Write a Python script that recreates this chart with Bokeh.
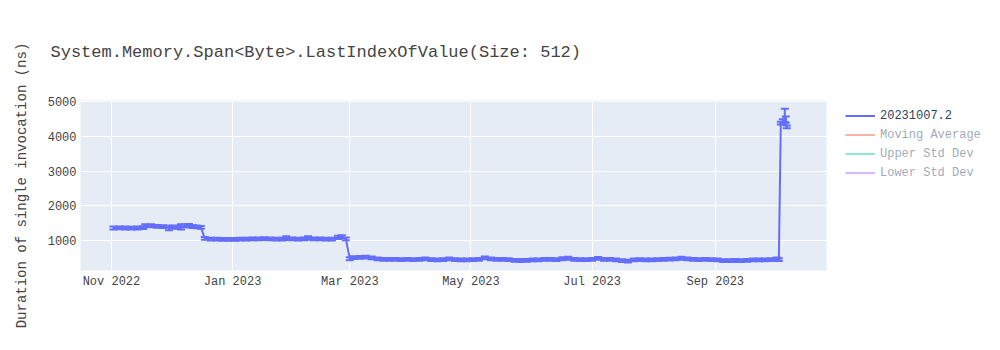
from datetime import datetime
import pandas as pd
from bokeh.plotting import figure
from bokeh.models import (ColumnDataSource, Whisker, TeeHead, Legend, LegendItem,
                          DatetimeTickFormatter, MonthsTicker, SingleIntervalTicker, Range1d)
from bokeh.embed import file_html
from bokeh.resources import INLINE

title_text = "System.Memory.Span<Byte>.LastIndexOfValue(Size: 512)"
y_label = "Duration of single invocation (ns)"
series_name = "20231007.2"
legend_only = ["Moving Average", "Upper Std Dev", "Lower Std Dev"]
legend_only_colors = ["#EF553B", "#00CC96", "#AB63FA"]

dates = [
    "2022-11-02", "2022-11-05", "2022-11-08", "2022-11-11", "2022-11-14", "2022-11-17",
    "2022-11-18", "2022-11-21", "2022-11-24", "2022-11-27", "2022-11-30", "2022-12-02",
    "2022-12-04", "2022-12-06", "2022-12-08", "2022-12-10", "2022-12-12", "2022-12-14",
    "2022-12-16", "2022-12-18", "2022-12-21", "2022-12-24", "2022-12-27", "2022-12-30",
    "2023-01-02", "2023-01-05", "2023-01-08", "2023-01-11", "2023-01-14", "2023-01-17",
    "2023-01-20", "2023-01-23", "2023-01-26", "2023-01-28", "2023-01-31", "2023-02-03",
    "2023-02-06", "2023-02-08", "2023-02-11", "2023-02-14", "2023-02-17", "2023-02-20",
    "2023-02-23", "2023-02-25", "2023-02-27", "2023-03-01", "2023-03-03", "2023-03-06",
    "2023-03-09", "2023-03-12", "2023-03-15", "2023-03-18", "2023-03-21", "2023-03-24",
    "2023-03-27", "2023-03-30", "2023-04-02", "2023-04-05", "2023-04-08", "2023-04-11",
    "2023-04-14", "2023-04-17", "2023-04-20", "2023-04-23", "2023-04-26", "2023-04-29",
    "2023-05-02", "2023-05-05", "2023-05-08", "2023-05-11", "2023-05-14", "2023-05-17",
    "2023-05-20", "2023-05-23", "2023-05-26", "2023-05-29", "2023-06-01", "2023-06-04",
    "2023-06-07", "2023-06-10", "2023-06-13", "2023-06-16", "2023-06-19", "2023-06-22",
    "2023-06-25", "2023-06-28", "2023-07-01", "2023-07-04", "2023-07-07", "2023-07-10",
    "2023-07-13", "2023-07-16", "2023-07-19", "2023-07-22", "2023-07-25", "2023-07-28",
    "2023-07-31", "2023-08-03", "2023-08-06", "2023-08-09", "2023-08-12", "2023-08-15",
    "2023-08-18", "2023-08-21", "2023-08-24", "2023-08-27", "2023-08-30", "2023-09-02",
    "2023-09-05", "2023-09-08", "2023-09-11", "2023-09-14", "2023-09-17", "2023-09-20",
    "2023-09-23", "2023-09-26", "2023-09-29", "2023-10-02", "2023-10-03", "2023-10-04",
    "2023-10-05", "2023-10-06", "2023-10-06T12:00", "2023-10-07",
]
values = [
    1360, 1365, 1360, 1355, 1360, 1370,
    1430, 1425, 1410, 1400, 1360, 1395,
    1380, 1390, 1420, 1430, 1400, 1390,
    1380, 1060, 1040, 1040, 1035, 1035,
    1035, 1040, 1040, 1045, 1050, 1055,
    1045, 1040, 1040, 1070, 1045, 1040,
    1050, 1075, 1050, 1045, 1040, 1040,
    1090, 1110, 1050, 475, 510, 515,
    520, 500, 470, 460, 455, 455,
    450, 455, 450, 455, 470, 450,
    440, 450, 470, 450, 445, 445,
    450, 455, 500, 470, 460, 455,
    450, 430, 425, 430, 440, 445,
    455, 460, 450, 475, 490, 460,
    450, 450, 455, 485, 460, 455,
    440, 420, 405, 440, 450, 445,
    440, 450, 455, 465, 470, 490,
    470, 455, 450, 460, 450, 440,
    420, 420, 425, 420, 430, 440,
    445, 440, 450, 470, 450, 4380,
    4420, 4600, 4480, 4270,
]
errors = [
    40, 40, 40, 40, 40, 40,
    40, 40, 40, 40, 65, 40,
    40, 75, 40, 45, 40, 40,
    40, 40, 40, 40, 40, 40,
    40, 40, 40, 40, 40, 40,
    40, 40, 40, 55, 40, 40,
    40, 50, 40, 40, 40, 40,
    45, 40, 40, 40, 40, 40,
    40, 40, 40, 40, 40, 40,
    40, 40, 40, 40, 40, 40,
    40, 40, 40, 40, 40, 40,
    40, 40, 40, 40, 40, 40,
    40, 40, 40, 40, 40, 40,
    40, 40, 40, 40, 40, 40,
    40, 40, 40, 40, 40, 40,
    40, 40, 40, 40, 40, 40,
    40, 40, 40, 40, 40, 40,
    40, 40, 40, 40, 40, 40,
    40, 40, 40, 40, 40, 40,
    40, 40, 40, 40, 40, 40,
    70, 190, 90, 40,
]

x = pd.to_datetime(dates, format="ISO8601")
src = ColumnDataSource(dict(
    x=x, y=values,
    lo=[v - e for v, e in zip(values, errors)],
    hi=[v + e for v, e in zip(values, errors)],
))

FONT = "Liberation Mono"
MAIN = "#636EFA"

p = figure(frame_width=746, frame_height=170, x_axis_type="datetime", output_backend="svg",
           toolbar_location=None, min_border_left=80, min_border_right=174,
           min_border_top=100, min_border_bottom=80,
           x_range=Range1d(datetime(2022, 10, 16, 10), datetime(2023, 10, 27)),
           y_range=Range1d(137, 5030))

p.background_fill_color = "#E5ECF6"
p.border_fill_color = "white"
p.outline_line_color = None

p.title.text = title_text
p.title.text_font = FONT
p.title.text_font_size = "17px"
p.title.text_font_style = "normal"
p.title.text_color = "#444444"
p.title.align = "left"
p.title.offset = -30
p.title.standoff = 78

for ax in (p.xaxis[0], p.yaxis[0]):
    ax.axis_line_color = None
    ax.major_tick_line_color = None
    ax.minor_tick_line_color = None
    ax.major_tick_out = 0
    ax.major_tick_in = 0
    ax.minor_tick_out = 0
    ax.minor_tick_in = 0
    ax.major_label_text_font = FONT
    ax.major_label_text_font_size = "12px"
    ax.major_label_text_color = "#444444"

p.xaxis.ticker = MonthsTicker(months=[0, 2, 4, 6, 8, 10])
p.xaxis.formatter = DatetimeTickFormatter(months="%b %Y", days="%b %Y", years="%Y")
p.xaxis.major_label_standoff = 4
p.yaxis.ticker = SingleIntervalTicker(interval=1000)
p.yaxis.major_label_standoff = 4
p.yaxis.axis_label = y_label
p.yaxis.axis_label_text_font = FONT
p.yaxis.axis_label_text_font_size = "14px"
p.yaxis.axis_label_text_font_style = "normal"
p.yaxis.axis_label_text_color = "#444444"
p.yaxis.axis_label_standoff = 15

p.xgrid.grid_line_color = "white"
p.ygrid.grid_line_color = "white"
p.xgrid.grid_line_width = 1
p.ygrid.grid_line_width = 1

main = p.line("x", "y", source=src, line_color=MAIN, line_width=2)
wh = Whisker(base="x", upper="hi", lower="lo", source=src, dimension="height",
             line_color=MAIN, line_width=2,
             upper_head=TeeHead(size=8, line_color=MAIN, line_width=2),
             lower_head=TeeHead(size=8, line_color=MAIN, line_width=2))
p.add_layout(wh)

items = [LegendItem(label=series_name, renderers=[main])]
for name, col in zip(legend_only, legend_only_colors):
    # traces shown only in the legend (hidden in the plot, as in the original)
    r = p.line("x", "y", source=src, line_color=col, line_width=2)
    r.visible = False
    items.append(LegendItem(label=name, renderers=[r]))

legend = Legend(items=items, location=(19, 90), border_line_color=None,
                background_fill_alpha=0, label_text_font=FONT,
                label_text_font_size="12px", label_text_color="#2a3f5f",
                glyph_width=30, glyph_height=15, label_height=15, spacing=4,
                padding=6, margin=0, inactive_fill_color="white",
                inactive_fill_alpha=0.55, click_policy="hide")
p.add_layout(legend, "right")

open("out.html", "w").write(file_html(p, INLINE))
